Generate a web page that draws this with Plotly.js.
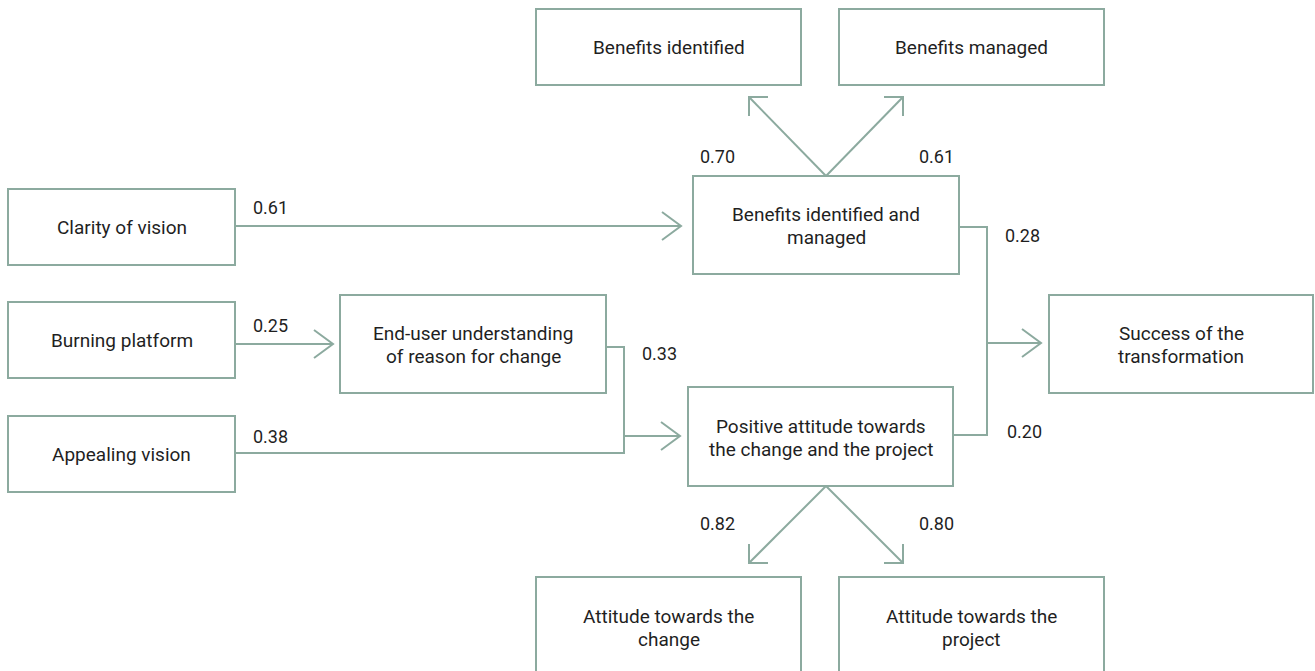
<!DOCTYPE html>
<html>
<head>
<meta charset="utf-8">
<script src="https://cdn.plot.ly/plotly-3.0.1.min.js"></script>
<style>html,body{margin:0;padding:0;background:#fff;}#chart{width:1315px;height:671px;}</style>
</head>
<body>
<div id="chart"></div>
<script>
// ---------- DATA ----------
const nodeLabels = [
  "Benefits identified",
  "Benefits managed",
  "Clarity of vision",
  "Benefits identified and<br>managed",
  "Burning platform",
  "End-user understanding<br>of reason for change",
  "Success of the<br>transformation",
  "Appealing vision",
  "Positive attitude towards<br>the change and the project",
  "Attitude towards the<br>change",
  "Attitude towards the<br>project"
];
// path coefficients (order matches pathLabelPos below)
const pathCoefs = [0.61, 0.25, 0.38, 0.33, 0.70, 0.61, 0.28, 0.20, 0.82, 0.80];

// ---------- LAYOUT GEOMETRY (diagram positions, not data) ----------
const boxes = [ // x0, y0, x1, y1
  [536, 9, 801, 85],
  [839, 9, 1104, 85],
  [8, 189, 235, 265],
  [693, 176, 959, 274],
  [8, 302, 235, 378],
  [340, 295, 606, 393],
  [1049, 295, 1313, 393],
  [8, 416, 235, 492],
  [688, 387, 953, 486],
  [536, 577, 801, 676],
  [839, 577, 1104, 676]
];
const pathLabelPos = [
  [270, 207], [270, 325], [270, 436], [659, 353], [717, 156],
  [936, 156], [1022, 235], [1024, 431], [717, 523], [936, 523]
];
// connector polylines
const lines = [
  [[235, 226], [681, 226]],
  [[235, 344], [333, 344]],
  [[606, 347], [624, 347], [624, 453], [235, 453]],
  [[624, 436], [680, 436]],
  [[959, 227], [987, 227], [987, 435], [953, 435]],
  [[987, 343], [1041, 343]],
  [[826, 176], [749, 97]],
  [[826, 176], [903, 97]],
  [[826, 486], [749, 563]],
  [[826, 486], [903, 563]]
];
// arrowheads: [tip, arm1, arm2]
const heads = [
  [[681, 226], [662, 212], [662, 240]],
  [[333, 344], [314, 330], [314, 358]],
  [[680, 436], [661, 422], [661, 450]],
  [[1041, 343], [1022, 329], [1022, 357]],
  [[749, 97], [749, 116], [768, 97]],
  [[903, 97], [903, 116], [884, 97]],
  [[749, 563], [749, 544], [768, 563]],
  [[903, 563], [903, 544], [884, 563]]
];

const lineColor = "#8caa9f";
const textColor = "#1f1f1f";
const fontFamily = "Roboto, 'Noto Sans', Arial, sans-serif";
const lineGap = 23;

const shapes = [];
lines.forEach(pts => {
  const d = pts.map((p, i) => (i ? "L" : "M") + p[0] + "," + p[1]).join(" ");
  shapes.push({type: "path", xref: "x", yref: "y", path: d, line: {color: lineColor, width: 2}});
});
heads.forEach(h => {
  const d = "M" + h[1][0] + "," + h[1][1] + " L" + h[0][0] + "," + h[0][1] + " L" + h[2][0] + "," + h[2][1];
  shapes.push({type: "path", xref: "x", yref: "y", path: d, line: {color: lineColor, width: 2}});
});
boxes.forEach(b => {
  shapes.push({type: "rect", xref: "x", yref: "y", x0: b[0], y0: b[1], x1: b[2], y1: b[3],
    fillcolor: "#ffffff", line: {color: lineColor, width: 2}});
});

const annotations = [];
nodeLabels.forEach((t, i) => {
  const b = boxes[i];
  const parts = t.split("<br>");
  const cx = (b[0] + b[2]) / 2;
  const cy = (b[1] + b[3]) / 2 + (parts.length > 1 ? 1 : 0);
  parts.forEach((line, k) => {
    annotations.push({x: cx, y: cy + (k - (parts.length - 1) / 2) * lineGap, xref: "x", yref: "y",
      text: line, showarrow: false, xanchor: "center", yanchor: "middle", align: "center",
      font: {family: fontFamily, size: 19, color: textColor}});
  });
});
pathCoefs.forEach((v, i) => {
  const p = pathLabelPos[i];
  annotations.push({x: p[0], y: p[1], xref: "x", yref: "y", text: v.toFixed(2),
    showarrow: false, xanchor: "center", yanchor: "middle",
    font: {family: fontFamily, size: 18, color: textColor}});
});

const layout = {
  width: 1315, height: 671,
  margin: {l: 0, r: 0, t: 0, b: 0},
  paper_bgcolor: "#ffffff", plot_bgcolor: "#ffffff",
  xaxis: {range: [0, 1315], visible: false, fixedrange: true},
  yaxis: {range: [671, 0], visible: false, fixedrange: true},
  showlegend: false,
  shapes: shapes,
  annotations: annotations
};

Plotly.newPlot("chart", [{x: [], y: [], type: "scatter", mode: "markers", hoverinfo: "skip"}], layout,
  {staticPlot: true, displayModeBar: false});
</script>
</body>
</html>
